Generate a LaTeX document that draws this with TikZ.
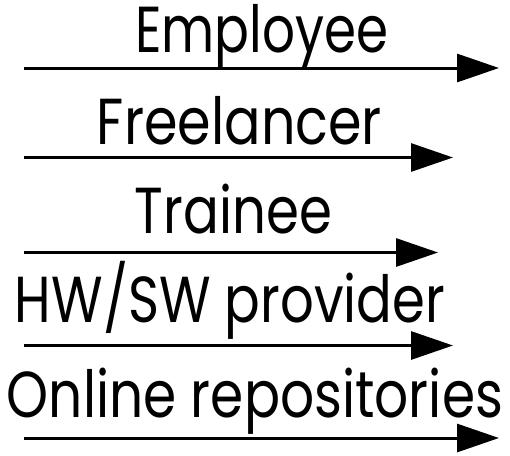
\documentclass[tikz,border=0pt]{standalone}
\usepackage{fontspec}
\setmainfont{Poppins}
\usetikzlibrary{arrows.meta}
\tikzset{
  lbl/.style={anchor=base, inner sep=0pt, outer sep=0pt},
  arr/.style={line width=3pt, -{Triangle[length=42pt,width=28pt]}}
}
\newcommand\fitlbl[2]{\resizebox{#1}{\height}{\fontsize{65}{65}\selectfont #2}}
\begin{document}
\begin{tikzpicture}[x=1pt,y=-1pt]
\useasboundingbox (0,0) rectangle (510,455);
\node[lbl] (l1) at (261.5,52) {\fitlbl{253pt}{Employee}};
\node[lbl] (l2) at (239.5,144) {\fitlbl{285pt}{Freelancer}};
\node[lbl] (l3) at (233.5,233) {\fitlbl{197pt}{Trainee}};
\node[lbl] (l4) at (230,322) {\fitlbl{430pt}{HW/SW provider}};
\node[lbl] (l5) at (255,417) {\fitlbl{496pt}{Online repositories}};
\coordinate (s1) at (24,68);    \coordinate (e1) at (499,68);
\coordinate (s2) at (24,157.5); \coordinate (e2) at (453,157.5);
\coordinate (s3) at (24,252.5); \coordinate (e3) at (438,252.5);
\coordinate (s4) at (24,345.5); \coordinate (e4) at (453,345.5);
\coordinate (s5) at (24,438);   \coordinate (e5) at (499,438);
\draw[arr] (s1) -- (e1);
\draw[arr] (s2) -- (e2);
\draw[arr] (s3) -- (e3);
\draw[arr] (s4) -- (e4);
\draw[arr] (s5) -- (e5);
\end{tikzpicture}
\end{document}
